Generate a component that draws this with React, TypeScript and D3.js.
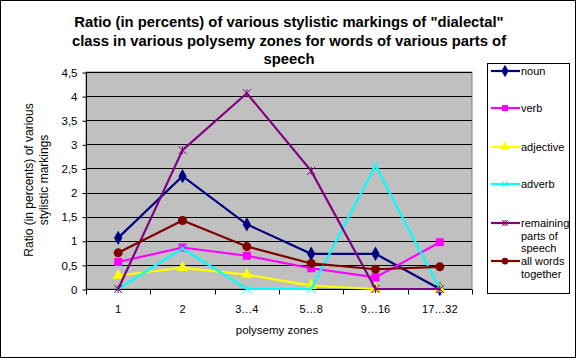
import * as d3 from 'd3'
import { useEffect, useRef } from 'react'

const zones = ['1', '2', '3…4', '5…8', '9…16', '17…32']
const noun = [1.06, 2.34, 1.34, 0.73, 0.73, 0]
const verb = [0.56, 0.86, 0.69, 0.43, 0.24, 0.97]
const adjective = [0.28, 0.44, 0.3, 0.07, 0, 0]
const adverb = [0, 0.84, 0, 0, 2.56, 0]
const remaining = [0, 2.88, 4.06, 2.45, 0, 0]
const allWords = [0.75, 1.42, 0.88, 0.53, 0.41, 0.46]
const yTicks = [0, 0.5, 1, 1.5, 2, 2.5, 3, 3.5, 4, 4.5]

const seriesList = [
  { name: ['noun'], values: noun, color: '#000080', marker: 'diamond' },
  { name: ['verb'], values: verb, color: '#FF00FF', marker: 'square' },
  { name: ['adjective'], values: adjective, color: '#FFFF00', marker: 'triangle' },
  { name: ['adverb'], values: adverb, color: '#00FFFF', marker: 'x' },
  { name: ['remaining', 'parts of', 'speech'], values: remaining, color: '#800080', marker: 'star' },
  { name: ['all words', 'together'], values: allWords, color: '#800000', marker: 'circle' },
]

const W = 576
const H = 358
const FONT = '"Liberation Sans", Arial, sans-serif'

const drawMarker = (g: any, type: string, x: number, y: number, color: string, s = 1) => {
  if (type === 'diamond') {
    g.append('path').attr('d', d3.symbol(d3.symbolDiamond, 60 * s)()).attr('transform', `translate(${x},${y})`).attr('fill', color)
  } else if (type === 'square') {
    g.append('rect').attr('x', x - 4 * s).attr('y', y - 4 * s).attr('width', 8 * s).attr('height', 8 * s).attr('fill', color)
  } else if (type === 'triangle') {
    g.append('path').attr('d', d3.symbol(d3.symbolTriangle, 55 * s)()).attr('transform', `translate(${x},${y})`).attr('fill', color)
  } else if (type === 'circle') {
    g.append('circle').attr('cx', x).attr('cy', y).attr('r', 4.5 * s).attr('fill', color)
  } else {
    const r = 4 * s
    g.append('path').attr('d', `M${x - r},${y - r}L${x + r},${y + r}M${x - r},${y + r}L${x + r},${y - r}` + (type === 'star' ? `M${x},${y - r}L${x},${y + r}` : ''))
      .attr('stroke', color).attr('stroke-width', 1).attr('fill', 'none')
  }
}

const drawChart = (el: SVGSVGElement) => {
  const svg = d3.select(el)
  svg.selectAll('*').remove()

  svg.append('rect').attr('x', 0.5).attr('y', 0.5).attr('width', W - 1).attr('height', H - 1)
    .attr('fill', 'white').attr('stroke', 'black')

  const PL = 86, PR = 472, PT = 72, PB = 289

  const x = d3.scaleBand().domain(zones).range([PL, PR])
  const y = d3.scaleLinear().domain([0, 4.5]).range([PB, PT])

  // title
  const title = ['Ratio (in percents) of various stylistic markings of "dialectal"',
    'class in various polysemy zones for words of various parts of', 'speech']
  svg.append('g').selectAll('text').data(title).join('text')
    .attr('x', 289).attr('y', (d, i) => 27 + i * 18.5)
    .attr('text-anchor', 'middle').attr('font-family', FONT).attr('font-weight', 'bold')
    .attr('font-size', 14.8).text(d => d)

  // plot area
  svg.append('rect').attr('x', PL).attr('y', PT).attr('width', PR - PL).attr('height', PB - PT)
    .attr('fill', '#C0C0C0').attr('stroke', '#808080')

  svg.append('g').selectAll('line').data(yTicks.slice(1)).join('line')
    .attr('x1', PL).attr('x2', PR).attr('y1', d => Math.round(y(d)) + 0.5).attr('y2', d => Math.round(y(d)) + 0.5)
    .attr('stroke', 'black')

  // y axis
  const yAxis = svg.append('g').attr('transform', `translate(${PL + 0.5},0.5)`)
    .call(d3.axisLeft(y).tickValues(yTicks).tickSize(4).tickPadding(5)
      .tickFormat(d => String(d).replace('.', ',')))
  yAxis.selectAll('text').attr('font-family', FONT).attr('font-size', 11.5)
  yAxis.select('.domain').attr('d', `M0,${PT}V${PB}`)

  // x axis
  const xAxis = svg.append('g').attr('transform', `translate(0,${PB + 0.5})`)
  xAxis.append('line').attr('x1', PL).attr('x2', PR).attr('stroke', 'black')
  const bounds = d3.range(zones.length + 1).map(i => PL + i * x.bandwidth())
  xAxis.selectAll('line.tk').data(bounds).join('line').attr('class', 'tk')
    .attr('x1', d => Math.round(d) + 0.5).attr('x2', d => Math.round(d) + 0.5).attr('y1', 0).attr('y2', 5)
    .attr('stroke', 'black')
  xAxis.selectAll('text').data(zones).join('text')
    .attr('x', d => (x(d) as number) + x.bandwidth() / 2).attr('y', 23)
    .attr('text-anchor', 'middle').attr('font-family', FONT).attr('font-size', 11).text(d => d)

  svg.append('text').attr('x', 277).attr('y', 334).attr('text-anchor', 'middle')
    .attr('font-family', FONT).attr('font-size', 11.5).text('polysemy zones')

  svg.append('g').attr('transform', 'translate(0,180) rotate(-90)')
    .selectAll('text').data(['Ratio (in percents) of various', 'stylistic markings']).join('text')
    .attr('x', 0).attr('y', (d, i) => 33 + i * 15).attr('text-anchor', 'middle')
    .attr('font-family', FONT).attr('font-size', 12).text(d => d)

  // series
  const cx = (i: number) => (x(zones[i]) as number) + x.bandwidth() / 2
  const line = d3.line<number>().x((d, i) => cx(i)).y(d => y(d))
  seriesList.forEach(s => {
    const g = svg.append('g')
    g.append('path').datum(s.values).attr('d', line).attr('fill', 'none')
      .attr('stroke', s.color).attr('stroke-width', 2.2)
    s.values.forEach((v, i) => drawMarker(g, s.marker, cx(i), y(v), s.color))
  })

  // legend
  svg.append('rect').attr('x', 487.5).attr('y', 63.5).attr('width', 82).attr('height', 230)
    .attr('fill', 'white').attr('stroke', 'black')
  const legendY = [71, 108, 147, 184, 223, 261]
  seriesList.forEach((s, i) => {
    const g = svg.append('g')
    const ly = legendY[i]
    g.append('line').attr('x1', 491).attr('x2', 520).attr('y1', ly).attr('y2', ly)
      .attr('stroke', s.color).attr('stroke-width', 2.2)
    drawMarker(g, s.marker, 505, ly, s.color, 0.75)
    s.name.forEach((t, j) => {
      g.append('text').attr('x', 521).attr('y', ly + 4 + j * 12.5)
        .attr('font-family', FONT).attr('font-size', 11).text(t)
    })
  })
}

export default function App() {
  const ref = useRef<SVGSVGElement>(null)
  useEffect(() => {
    if (ref.current) drawChart(ref.current)
  }, [])
  return (
    <svg ref={ref} width={W} height={H} style={{ position: 'absolute', left: 0, top: 0 }} />
  )
}
